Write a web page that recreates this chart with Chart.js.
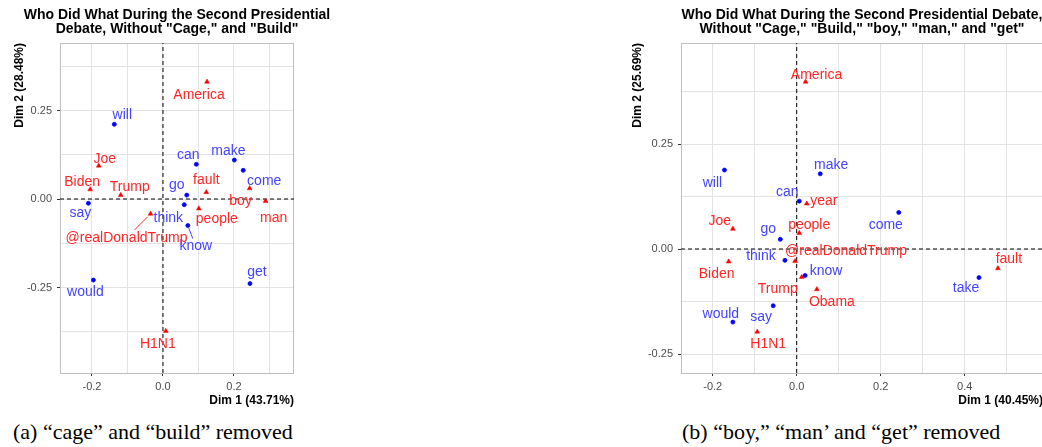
<!DOCTYPE html>
<html>
<head>
<meta charset="utf-8">
<script src="https://cdn.jsdelivr.net/npm/chart.js@4.4.1/dist/chart.umd.min.js"></script>
<style>
  html, body { margin: 0; padding: 0; background: #fff; }
  body { width: 1042px; height: 447px; position: relative; overflow: hidden; }
  canvas { position: absolute; top: 0; }
  #chartA { left: 0; }
  #chartB { left: 618px; }
  .caption { position: absolute; top: 421px; font: 22px "Liberation Serif", "Times New Roman", serif; line-height: 22px; white-space: nowrap; color: #000; }
</style>
</head>
<body>
<canvas id="chartA" width="340" height="408"></canvas>
<canvas id="chartB" width="430" height="408"></canvas>
<div class="caption" style="left:13px">(a) “cage” and “build” removed</div>
<div class="caption" style="left:682px">(b) “boy,” “man’ and “get” removed</div>
<script>
// ---- panel (a): without "cage" and "build"
const wordsA = ['will', 'can', 'make', 'come', 'go', 'say', 'think', 'know', 'get', 'would'];
const wordXA = [-0.137, 0.094, 0.201, 0.226, 0.067, -0.210, 0.060, 0.070, 0.245, -0.196];
const wordYA = [0.211, 0.098, 0.110, 0.081, 0.011, -0.012, -0.016, -0.075, -0.239, -0.229];
const namesA = ['America', 'Joe', 'Biden', 'Trump', 'fault', 'boy', 'man', 'people', '@realDonaldTrump', 'H1N1'];
const nameXA = [0.124, -0.181, -0.205, -0.119, 0.122, 0.244, 0.289, 0.101, -0.035, 0.008];
const nameYA = [0.331, 0.094, 0.027, 0.011, 0.019, 0.030, -0.006, -0.027, -0.042, -0.373];
const xTicksA = [-0.2, 0.0, 0.2];
const xTickLabelsA = ['-0.2', '0.0', '0.2'];
const yTicksA = [-0.25, 0.0, 0.25];
const yTickLabelsA = ['-0.25', '0.00', '0.25'];

// ---- panel (b): also without "boy", "man" and "get"
const wordsB = ['will', 'make', 'can', 'come', 'go', 'think', 'know', 'take', 'say', 'would'];
const wordXB = [-0.172, 0.056, 0.006, 0.243, -0.039, -0.028, 0.020, 0.434, -0.056, -0.152];
const wordYB = [0.188, 0.179, 0.114, 0.087, 0.023, -0.027, -0.063, -0.068, -0.135, -0.174];
const namesB = ['America', 'year', 'Joe', 'people', '@realDonaldTrump', 'Biden', 'Trump', 'Obama', 'fault', 'H1N1'];
const nameXB = [0.021, 0.024, -0.152, 0.006, -0.004, -0.162, 0.012, 0.048, 0.479, -0.094];
const nameYB = [0.398, 0.108, 0.048, 0.038, -0.029, -0.030, -0.067, -0.096, -0.046, -0.197];
const xTicksB = [-0.2, 0.0, 0.2, 0.4];
const xTickLabelsB = ['-0.2', '0.0', '0.2', '0.4'];
const yTicksB = [-0.25, 0.0, 0.25];
const yTickLabelsB = ['-0.25', '0.00', '0.25'];

// label nudges in px (where the repelled labels ended up)
const wordNudgeA = [[8,-9],[-8,-9],[-6,-9],[21,11],[-10,-10],[-8,10],[-16,13],[8,21],[7,-11],[-8,12]];
const nameNudgeA = [[-8,13],[6,-6.5],[-8,-7.5],[9,-8],[0,-12],[-9,13],[8,17],[18,11],[-24,24],[-8,13]];
const wordNudgeB = [[-12,13],[11,-9],[-12,-9],[-13,13],[-12,-10],[-24,-4],[21,-4],[-13,11],[-12,11],[-12,-8]];
const nameNudgeB = [[11,-7],[17,-2.5],[-13,-8],[10,-8],[51,-10.5],[-12,12.5],[-24,12],[15,12.5],[11,-9],[11,12]];

Chart.defaults.font.family = '"Liberation Sans", Arial, sans-serif';

const near = (a, b) => Math.abs(a - b) < 1e-9;

const labelPlugin = {
  id: 'pointLabels',
  afterDatasetsDraw(chart) {
    const ctx = chart.ctx;
    ctx.save();
    ctx.font = '14px "Liberation Sans", Arial, sans-serif';
    ctx.textAlign = 'center';
    ctx.textBaseline = 'middle';
    chart.data.datasets.forEach((ds, i) => {
      if (!ds.words) return;
      const meta = chart.getDatasetMeta(i);
      meta.data.forEach((pt, j) => {
        const lx = pt.x + ds.nudge[j][0];
        const ly = pt.y + ds.nudge[j][1];
        const w = ds.words[j];
        ctx.fillStyle = ds.textColor;
        if (ds.segments && ds.segments.includes(w)) {
          // segment from the point up to the top edge of the label box
          const dx = lx - pt.x, dy = ly - pt.y;
          const t = (Math.abs(dy) - 8) / Math.abs(dy);
          ctx.strokeStyle = ds.textColor;
          ctx.lineWidth = 1;
          ctx.beginPath();
          ctx.moveTo(pt.x + dx * 0.12, pt.y + dy * 0.12);
          ctx.lineTo(pt.x + dx * t, pt.y + dy * t);
          ctx.stroke();
        }
        ctx.fillText(w, lx, ly);
      });
    });
    ctx.restore();
  }
};

const framePlugin = {
  id: 'panelFrame',
  beforeDatasetsDraw(chart) {
    const {ctx, chartArea: a} = chart;
    ctx.save();
    ctx.strokeStyle = '#bfbfbf';
    ctx.lineWidth = 1;
    ctx.strokeRect(Math.round(a.left) + 0.5, Math.round(a.top) + 0.5, Math.round(a.right - a.left) - 1, Math.round(a.bottom - a.top));
    ctx.restore();
  },
  afterDraw(chart, args, opts) {
    const {ctx, chartArea: a} = chart;
    ctx.save();
    ctx.font = 'bold 14px "Liberation Sans", Arial, sans-serif';
    ctx.fillStyle = '#000';
    ctx.textAlign = 'center';
    ctx.textBaseline = 'middle';
    const cx = (a.left + a.right) / 2;
    opts.lines.forEach((t, k) => ctx.fillText(t, cx, 15 + k * 14.3));
    ctx.restore();
  }
};

function makePanel(id, p) {
  const xMajor = p.xTicks, yMajor = p.yTicks;
  // major ticks plus the minor lines half way between them
  const gridVals = (major, min, max) => {
    const step = (major[1] - major[0]) / 2;
    const out = [];
    for (let v = major[0] - step * Math.floor((major[0] - min) / step); v <= max + 1e-9; v += step) out.push(+v.toFixed(4));
    return out;
  };
  const axisCommon = (major, labels, min, max) => ({
    type: 'linear', min: min, max: max,
    afterBuildTicks: (s) => { s.ticks = gridVals(major, min, max).map(v => ({value: v})); },
    ticks: {
      autoSkip: false, maxRotation: 0, color: '#4d4d4d', font: {size: 11},
      callback: (v) => { const k = major.findIndex(m => near(m, v)); return k >= 0 ? labels[k] : ''; }
    },
    grid: {
      color: '#e3e3e3', lineWidth: 1, drawTicks: true, tickLength: 3,
      tickColor: (c) => major.some(m => near(m, c.tick.value)) ? '#333333' : 'rgba(0,0,0,0)'
    },
    border: {display: false},
    title: {display: true, align: 'end', color: '#000', font: {size: 12, weight: 'bold'}}
  });
  const xAxis = axisCommon(xMajor, p.xTickLabels, p.xMin, p.xMax);
  xAxis.ticks.padding = 4;
  xAxis.title.text = p.xTitle;
  xAxis.title.padding = {top: 0, bottom: 0};
  xAxis.afterFit = (s) => { s.height = 35; };
  const yAxis = axisCommon(yMajor, p.yTickLabels, p.yMin, p.yMax);
  yAxis.ticks.padding = 5;
  yAxis.title.text = p.yTitle;
  yAxis.title.padding = {top: 12, bottom: 0};
  yAxis.afterFit = (s) => { s.width = p.yAxisWidth; };

  return new Chart(document.getElementById(id), {
    type: 'scatter',
    data: {
      datasets: [
        {
          data: p.wordX.map((x, i) => ({x: x, y: p.wordY[i]})),
          words: p.words, nudge: p.wordNudge, textColor: '#4343ff', segments: p.wordSegments,
          pointStyle: 'circle', pointRadius: 2, borderWidth: 0.8,
          backgroundColor: '#0000ff', borderColor: '#0000ff', order: 1
        },
        {
          data: p.nameX.map((x, i) => ({x: x, y: p.nameY[i]})),
          words: p.names, nudge: p.nameNudge, textColor: '#ff2626', segments: p.nameSegments,
          pointStyle: 'triangle', pointRadius: 2.8, borderWidth: 0.5,
          backgroundColor: '#ff0000', borderColor: '#ff0000', order: 2
        },
        {
          data: [{x: 0, y: p.yMin}, {x: 0, y: p.yMax}], showLine: true,
          borderColor: '#000', borderWidth: 1, borderDash: [4, 3], pointRadius: 0, order: 10
        },
        {
          data: [{x: p.xMin, y: 0}, {x: p.xMax, y: 0}], showLine: true,
          borderColor: '#000', borderWidth: 1, borderDash: [4, 3], pointRadius: 0, order: 10
        }
      ]
    },
    options: {
      responsive: false, animation: false, events: [],
      layout: {padding: {top: 43, left: 0, right: p.rightPad, bottom: 0}},
      scales: {x: xAxis, y: yAxis},
      plugins: {legend: {display: false}, tooltip: {enabled: false}, panelFrame: {lines: p.title}}
    },
    plugins: [framePlugin, labelPlugin]
  });
}

makePanel('chartA', {
  words: wordsA, wordX: wordXA, wordY: wordYA, wordNudge: wordNudgeA, wordSegments: ['know'],
  names: namesA, nameX: nameXA, nameY: nameYA, nameNudge: nameNudgeA, nameSegments: ['@realDonaldTrump'],
  xTicks: xTicksA, xTickLabels: xTickLabelsA, yTicks: yTicksA, yTickLabels: yTickLabelsA,
  xMin: -0.290, xMax: 0.369, yMin: -0.4915, yMax: 0.4407,
  xTitle: 'Dim 1 (43.71%)', yTitle: 'Dim 2 (28.48%)',
  title: ['Who Did What During the Second Presidential', 'Debate, Without "Cage," and "Build"'],
  yAxisWidth: 60, rightPad: 46
});

makePanel('chartB', {
  words: wordsB, wordX: wordXB, wordY: wordYB, wordNudge: wordNudgeB, wordSegments: [],
  names: namesB, nameX: nameXB, nameY: nameYB, nameNudge: nameNudgeB, nameSegments: [],
  xTicks: xTicksB, xTickLabels: xTickLabelsB, yTicks: yTicksB, yTickLabels: yTickLabelsB,
  xMin: -0.2755, xMax: 0.5864, yMin: -0.2952, yMax: 0.4905,
  xTitle: 'Dim 1 (40.45%)', yTitle: 'Dim 2 (25.69%)',
  title: ['Who Did What During the Second Presidential Debate,', 'Without "Cage," "Build," "boy," "man," and "get"'],
  yAxisWidth: 63, rightPad: 5
});
</script>
</body>
</html>
